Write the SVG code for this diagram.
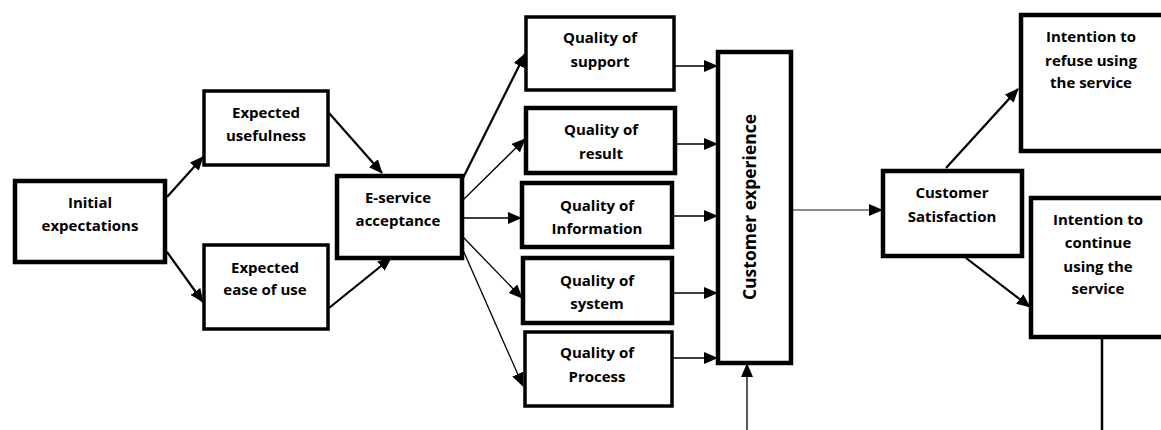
<svg xmlns="http://www.w3.org/2000/svg" width="1161" height="430" viewBox="0 0 1161 430">
<defs>
<marker id="ah" markerUnits="userSpaceOnUse" markerWidth="14" markerHeight="12" refX="13" refY="6" orient="auto">
<path d="M0,0 L14,6 L0,12 Z" fill="#000"/>
</marker>
</defs>
<style>
.box{fill:#fff;stroke:#000;stroke-width:3.5}
.thick{stroke-width:4.5}
text{font-family:"Open Sans","Noto Sans","DejaVu Sans",sans-serif;font-weight:bold;font-size:15px;text-anchor:middle;fill:#000}
text.big{font-size:17.5px}
.c{stroke:#000;fill:none;marker-end:url(#ah)}
.w1{stroke-width:1.3}
.w2{stroke-width:2.2}
.gray{stroke:#666}
</style>
<g id="connectors">
<line class="c w2" x1="167" y1="197" x2="203" y2="157"/>
<line class="c w2" x1="167" y1="252" x2="203" y2="302"/>
<line class="c w2" x1="329" y1="113" x2="382" y2="173"/>
<line class="c w2" x1="329" y1="308" x2="391" y2="258"/>
<line class="c w2" x1="463" y1="178" x2="525" y2="54"/>
<line class="c w1" x1="463" y1="200" x2="525" y2="139"/>
<line class="c w1" x1="463" y1="218" x2="521" y2="218"/>
<line class="c w1" x1="463" y1="237" x2="522" y2="298"/>
<line class="c w1" x1="463" y1="250" x2="523" y2="386"/>
<line class="c w1" x1="675" y1="66" x2="717" y2="66"/>
<line class="c w1" x1="676" y1="144" x2="717" y2="144"/>
<line class="c w1" x1="673" y1="216" x2="717" y2="216"/>
<line class="c w1" x1="673" y1="293" x2="717" y2="293"/>
<line class="c w1" x1="673" y1="358" x2="717" y2="358"/>
<line class="c w1" x1="747" y1="430" x2="747" y2="364"/>
<line class="c w1 gray" x1="792" y1="210" x2="882" y2="210"/>
<line class="c w2" x1="946" y1="168" x2="1018" y2="89"/>
<line class="c w2" x1="966" y1="258" x2="1030" y2="307"/>
<line x1="1102" y1="338" x2="1102" y2="430" stroke="#000" stroke-width="2.5"/>
</g>
<g id="initial">
<rect class="box thick" x="15" y="181" width="150" height="81"/>
<text x="90" y="208">Initial</text>
<text x="90" y="231">expectations</text>
</g>
<g id="usefulness">
<rect class="box" x="204" y="91" width="124" height="74"/>
<text x="266" y="118">Expected</text>
<text x="266" y="141">usefulness</text>
</g>
<g id="ease">
<rect class="box" x="204" y="245" width="124" height="84"/>
<text x="265" y="273">Expected</text>
<text x="265" y="295">ease of use</text>
</g>
<g id="acceptance">
<rect class="box thick" x="337" y="176" width="125" height="82"/>
<text x="398" y="203">E-service</text>
<text x="398" y="226">acceptance</text>
</g>
<g id="support">
<rect class="box" x="526" y="17" width="148" height="73"/>
<text x="600" y="43">Quality of</text>
<text x="600" y="67">support</text>
</g>
<g id="result">
<rect class="box thick" x="526" y="108" width="149" height="65"/>
<text x="601" y="135">Quality of</text>
<text x="601" y="159">result</text>
</g>
<g id="information">
<rect class="box thick" x="522" y="183" width="150" height="64"/>
<text x="597" y="211">Quality of</text>
<text x="597" y="234">Information</text>
</g>
<g id="system">
<rect class="box thick" x="523" y="258" width="149" height="65"/>
<text x="597" y="286">Quality of</text>
<text x="597" y="309">system</text>
</g>
<g id="process">
<rect class="box" x="525" y="332" width="147" height="74"/>
<text x="597" y="358">Quality of</text>
<text x="597" y="382">Process</text>
</g>
<g id="experience">
<rect class="box thick" x="718" y="52" width="73" height="311"/>
<text class="big" x="0" y="0" transform="translate(756,207) rotate(-90)">Customer experience</text>
</g>
<g id="satisfaction">
<rect class="box thick" x="883" y="171" width="139" height="85"/>
<text x="952" y="198">Customer</text>
<text x="952" y="222">Satisfaction</text>
</g>
<g id="refuse">
<rect class="box thick" x="1021" y="15" width="145" height="136"/>
<text x="1091" y="42">Intention to</text>
<text x="1091" y="66">refuse using</text>
<text x="1091" y="88">the service</text>
</g>
<g id="continue">
<rect class="box thick" x="1031" y="198" width="135" height="139"/>
<text x="1098" y="225">Intention to</text>
<text x="1098" y="248">continue</text>
<text x="1098" y="272">using the</text>
<text x="1098" y="294">service</text>
</g>
</svg>
